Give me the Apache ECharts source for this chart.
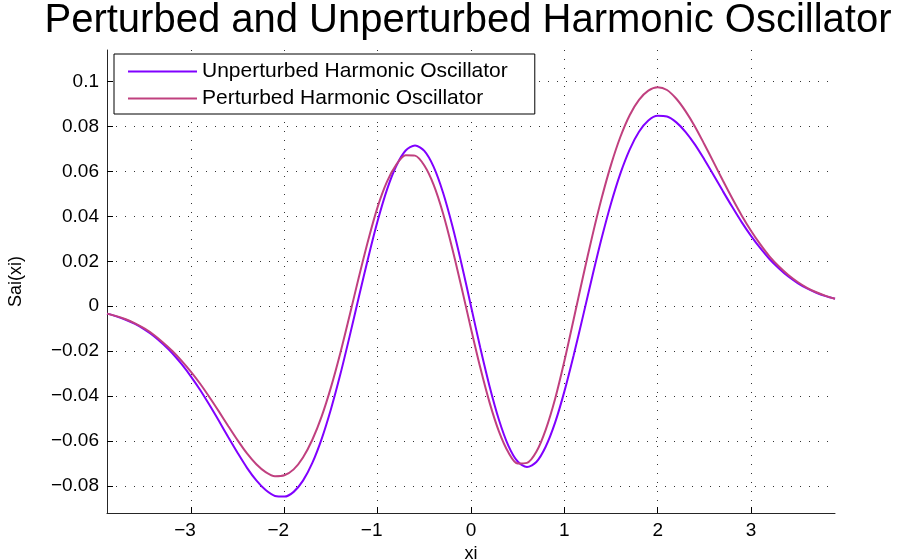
<!DOCTYPE html>
<html>
<head>
<meta charset="utf-8">
<script src="https://cdn.jsdelivr.net/npm/echarts@6/dist/echarts.min.js"></script>
<style>
html,body{margin:0;padding:0;background:#fff;}
#chart{width:899px;height:560px;}
</style>
</head>
<body>
<div id="chart"></div>
<script>
// ---- data ----
const titleText = 'Perturbed and Unperturbed Harmonic Oscillator';
const xName = 'xi';
const yName = 'Sai(xi)';
const seriesNames = ['Unperturbed Harmonic Oscillator', 'Perturbed Harmonic Oscillator'];

const xValues = [
  -3.9,-3.8,-3.7,-3.6,-3.5,-3.4,-3.3,-3.2,-3.1,-3.0,
  -2.9,-2.8,-2.7,-2.6,-2.5,-2.4,-2.3,-2.2,-2.1,-2.0,
  -1.9,-1.8,-1.7,-1.6,-1.5,-1.4,-1.3,-1.2,-1.1,-1.0,
  -0.9,-0.8,-0.7,-0.6,-0.5,-0.4,-0.3,-0.2,-0.1,0.0,
  0.1,0.2,0.3,0.4,0.5,0.6,0.7,0.8,0.9,1.0,
  1.1,1.2,1.3,1.4,1.5,1.6,1.7,1.8,1.9,2.0,
  2.1,2.2,2.3,2.4,2.5,2.6,2.7,2.8,2.9,3.0,
  3.1,3.2,3.3,3.4,3.5,3.6,3.7,3.8,3.9
];

const unperturbed = [
  -0.0033,-0.0045,-0.0060,-0.0079,-0.0103,-0.0132,-0.0168,-0.0209,-0.0258,-0.0313,
  -0.0374,-0.0441,-0.0511,-0.0583,-0.0653,-0.0719,-0.0775,-0.0818,-0.0844,-0.0847,
  -0.0826,-0.0776,-0.0697,-0.0590,-0.0457,-0.0303,-0.0133,0.0044,0.0218,0.0380,
  0.0519,0.0625,0.0693,0.0715,0.0691,0.0620,0.0506,0.0358,0.0186,0.0000,
  -0.0186,-0.0358,-0.0506,-0.0620,-0.0691,-0.0715,-0.0693,-0.0625,-0.0519,-0.0380,
  -0.0218,-0.0044,0.0133,0.0303,0.0457,0.0590,0.0697,0.0776,0.0826,0.0847,
  0.0844,0.0818,0.0775,0.0719,0.0653,0.0583,0.0511,0.0441,0.0374,0.0313,
  0.0258,0.0209,0.0168,0.0132,0.0103,0.0079,0.0060,0.0045,0.0033
];

const perturbed = [
  -0.0033,-0.0044,-0.0058,-0.0076,-0.0099,-0.0127,-0.0161,-0.0199,-0.0243,-0.0292,
  -0.0346,-0.0406,-0.0469,-0.0534,-0.0597,-0.0655,-0.0703,-0.0738,-0.0756,-0.0752,
  -0.0726,-0.0673,-0.0594,-0.0490,-0.0360,-0.0208,-0.0040,0.0132,0.0296,0.0442,
  0.0554,0.0630,0.0672,0.0670,0.0626,0.0540,0.0414,0.0256,0.0081,-0.0100,
  -0.0274,-0.0430,-0.0558,-0.0650,-0.0700,-0.0697,-0.0648,-0.0550,-0.0414,-0.0245,
  -0.0058,0.0131,0.0313,0.0481,0.0629,0.0753,0.0850,0.0918,0.0959,0.0974,
  0.0962,0.0923,0.0867,0.0799,0.0721,0.0640,0.0558,0.0479,0.0404,0.0336,
  0.0275,0.0221,0.0177,0.0139,0.0108,0.0082,0.0062,0.0046,0.0033
];

const xTicks = [-3, -2, -1, 0, 1, 2, 3];
const yTicks = [-0.08, -0.06, -0.04, -0.02, 0, 0.02, 0.04, 0.06, 0.08, 0.1];
const yTickLabels = ['\u22120.08','\u22120.06','\u22120.04','\u22120.02','0','0.02','0.04','0.06','0.08','0.1'];
const xRange = [-3.9, 3.9];
const yRange = [-0.092, 0.114];

// ---- chart ----
const colors = ['#8000ff', '#c0407f'];
const font = '"Liberation Sans", Arial, Helvetica, sans-serif';
const gridLine = { show: true, lineStyle: { color: '#333333', width: 1, type: [1, 8] } };

const chart = echarts.init(document.getElementById('chart'), null, { renderer: 'canvas' });
chart.setOption({
  animation: false,
  backgroundColor: '#ffffff',
  textStyle: { fontFamily: font, color: '#000' },
  title: {
    text: titleText,
    left: 468, top: 1, padding: 0, textAlign: 'center',
    textStyle: { fontFamily: font, fontSize: 40, fontWeight: 'normal', color: '#000' }
  },
  legend: {
    orient: 'vertical',
    left: 114, top: 54,
    padding: [7, 27, 5, 14],
    itemGap: 6,
    itemWidth: 69, itemHeight: 2,
    icon: 'rect',
    backgroundColor: '#fff',
    borderColor: '#000', borderWidth: 1,
    textStyle: { fontFamily: font, fontSize: 21, color: '#000', lineHeight: 20 },
    data: seriesNames
  },
  grid: { left: 107, right: 64, top: 50, bottom: 47, containLabel: false, outerBoundsMode: 'none' },
  xAxis: {
    type: 'value',
    min: xRange[0], max: xRange[1],
    name: xName, nameLocation: 'middle', nameGap: 31,
    nameTextStyle: { fontFamily: font, fontSize: 18, color: '#000' },
    axisLine: { show: true, onZero: false, lineStyle: { color: '#262626', width: 1 } },
    axisTick: { show: true, inside: true, length: 6, customValues: xTicks, lineStyle: { color: '#000', width: 1 } },
    axisLabel: {
      customValues: xTicks, margin: 8, fontSize: 19, fontFamily: font, color: '#000',
      formatter: v => v < 0 ? '{n|\u2212' + Math.abs(v) + '}' : String(v),
      rich: { n: { fontSize: 19, fontFamily: font, color: '#000', padding: [0, 12, 0, 0] } }
    },
    splitLine: gridLine
  },
  yAxis: {
    type: 'value',
    min: yRange[0], max: yRange[1],
    name: yName, nameLocation: 'middle', nameGap: 82, nameRotate: 90,
    nameTextStyle: { fontFamily: font, fontSize: 18, color: '#000' },
    axisLine: { show: true, onZero: false, lineStyle: { color: '#262626', width: 1 } },
    axisTick: { show: true, inside: true, length: 6, customValues: yTicks, lineStyle: { color: '#000', width: 1 } },
    axisLabel: {
      customValues: yTicks, margin: 8, fontSize: 19, fontFamily: font, color: '#000',
      formatter: v => { const i = yTicks.findIndex(t => Math.abs(t - v) < 1e-9); return i >= 0 ? yTickLabels[i] : ''; }
    },
    splitLine: gridLine
  },
  series: [
    {
      name: seriesNames[0], type: 'line', smooth: 0.3, showSymbol: false, symbol: 'none',
      data: xValues.map((x, i) => [x, unperturbed[i]]),
      lineStyle: { color: colors[0], width: 2 }, itemStyle: { color: colors[0] }, z: 3
    },
    {
      name: seriesNames[1], type: 'line', smooth: 0.3, showSymbol: false, symbol: 'none',
      data: xValues.map((x, i) => [x, perturbed[i]]),
      lineStyle: { color: colors[1], width: 2 }, itemStyle: { color: colors[1] }, z: 4
    }
  ]
});
</script>
</body>
</html>
